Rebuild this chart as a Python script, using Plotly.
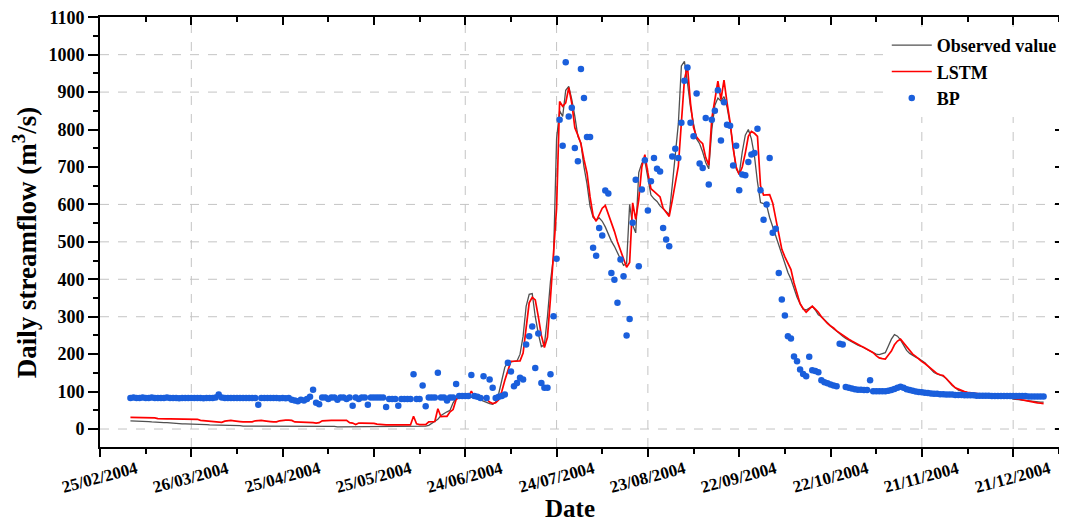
import pandas as pd
import plotly.graph_objects as go

# ---------------- data (daily values, 06/03/2004 - 31/12/2004) ----------------
start_date = "2004-03-06"

observed = [
    22, 22, 21, 21, 20, 20, 20, 19, 18, 18,
    18, 17, 17, 16, 15, 15, 14, 14, 14, 14,
    14, 13, 13, 12, 12, 12, 11, 11, 10, 10,
    10, 10, 9, 9, 9, 9, 9, 8, 8, 8,
    8, 8, 8, 8, 9, 9, 9, 8, 8, 8,
    8, 8, 8, 7, 7, 7, 8, 8, 8, 8,
    8, 8, 8, 7, 7, 7, 7, 7, 6, 6,
    6, 6, 6, 6, 6, 6, 7, 7, 7, 7,
    7, 7, 7, 6, 6, 6, 6, 6, 6, 6,
    6, 6, 6, 6, 6, 7, 7, 8, 10, 15,
    20, 26, 36, 42, 46, 50, 70, 82, 85, 86,
    86, 86, 86, 85, 84, 78, 74, 71, 68, 66,
    72, 95, 130, 165, 178, 180, 180, 182, 200, 248,
    328, 360, 362, 300, 255, 220, 225, 300, 395, 460,
    775, 850, 835, 905, 915, 880, 835, 782, 764, 700,
    655, 595, 565, 558, 564, 555, 540, 520, 502, 488,
    470, 455, 437, 442, 600, 545, 524, 685, 710, 716,
    665, 625, 615, 608, 596, 588, 580, 573, 650, 728,
    815, 970, 982, 925, 860, 815, 775, 762, 740, 712,
    695, 800, 865, 884, 876, 888, 860, 815, 755, 695,
    680, 740, 785, 800, 775, 730, 660, 605, 602, 598,
    565, 541, 515, 492, 465, 440, 418, 400, 375, 352,
    335, 320, 318, 322, 328, 318, 305, 300, 292, 283,
    274, 268, 262, 254, 248, 242, 237, 233, 228, 224,
    221, 217, 213, 208, 204, 200, 199, 201, 204, 222,
    240, 252, 248, 238, 222, 210, 202, 196, 192, 188,
    182, 177, 168, 160, 151, 147, 144, 141, 135, 124,
    116, 110, 104, 101, 100, 97, 95, 94, 93, 92,
    91, 90, 90, 89, 89, 88, 88, 87, 86, 84,
    80, 79, 78, 77, 76, 75, 74, 73, 73, 72,
    72,
]

lstm = [
    31, 31, 31, 31, 31, 31, 31, 31, 30, 28,
    27, 27, 27, 27, 27, 27, 27, 27, 27, 27,
    27, 27, 26, 23, 22, 22, 21, 20, 18, 17,
    18, 21, 22, 23, 22, 22, 20, 19, 19, 19,
    19, 22, 23, 23, 22, 22, 20, 19, 19, 22,
    24, 24, 24, 23, 19, 19, 18, 18, 18, 18,
    17, 16, 17, 22, 23, 23, 23, 23, 23, 23,
    23, 23, 17, 16, 12, 16, 16, 16, 14, 14,
    15, 13, 12, 12, 11, 11, 11, 10, 10, 11,
    11, 12, 11, 34, 14, 12, 12, 12, 19, 20,
    20, 54, 33, 34, 34, 46, 52, 79, 85, 86,
    86, 86, 101, 86, 83, 83, 83, 80, 72, 68,
    70, 78, 100, 130, 155, 181, 181, 181, 182, 203,
    274, 337, 352, 345, 300, 250, 218, 245, 350, 470,
    590, 875, 862, 871, 912, 870, 805, 785, 762, 720,
    684, 620, 570, 555, 575, 590, 597, 575, 555, 528,
    500, 478, 455, 432, 445, 604, 560, 613, 700, 733,
    684, 642, 635, 628, 620, 590, 580, 568, 610, 660,
    702, 818, 933, 969, 870, 805, 780, 770, 762, 725,
    705, 830, 875, 929, 880, 932, 872, 820, 750, 700,
    680, 700, 737, 782, 795, 790, 782, 650, 625, 626,
    626, 604, 560, 520, 480, 460, 444, 426, 390, 364,
    335, 322, 312, 320, 328, 320, 312, 300, 290, 282,
    275, 270, 262, 256, 250, 245, 240, 235, 230, 226,
    222, 218, 214, 210, 204, 196, 190, 188, 187, 198,
    208, 225, 235, 240, 230, 218, 210, 200, 194, 186,
    180, 175, 168, 160, 154, 148, 145, 143, 135, 125,
    118, 110, 106, 104, 100, 98, 97, 96, 95, 94,
    93, 92, 91, 90, 89, 88, 87, 86, 86, 85,
    83, 82, 80, 78, 76, 74, 72, 71, 70, 69,
    68,
]

bp = [
    83, 84, 83, 83, 84, 83, 83, 84, 83, 83,
    83, 83, 84, 83, 83, 83, 82, 83, 83, 83,
    83, 83, 83, 83, 82, 83, 83, 83, 84, 92,
    84, 83, 83, 83, 83, 83, 83, 83, 83, 83,
    83, 83, 65, 83, 83, 83, 83, 83, 83, 82,
    83, 82, 83, 78, 76, 74, 78, 76, 80, 86,
    105, 70, 66, 84, 84, 80, 84, 84, 78, 84,
    84, 80, 84, 62, 84, 80, 84, 84, 65, 84,
    84, 84, 84, 84, 59, 80, 80, 80, 62, 80,
    80, 80, 80, 146, 80, 80, 116, 61, 84, 84,
    84, 150, 84, 84, 76, 84, 84, 120, 88, 88,
    88, 88, 144, 88, 86, 83, 141, 83, 132, 110,
    83, 86, 88, 92, 177, 154, 114, 123, 137, 132,
    226, 248, 274, 163, 255, 123, 110, 110, 146, 301,
    455, 826, 757, 980, 835, 858, 751, 715, 962, 884,
    780, 780, 484, 463, 537, 517, 637, 629, 417, 399,
    337, 453, 408, 250, 294, 551, 666, 435, 640, 718,
    584, 662, 724, 695, 688, 537, 506, 488, 728, 749,
    724, 818, 930, 966, 818, 782, 896, 709, 697, 831,
    653, 826, 850, 905, 771, 873, 813, 810, 704, 757,
    638, 680, 678, 713, 733, 737, 802, 638, 559, 600,
    724, 524, 535, 417, 346, 303, 248, 242, 194, 181,
    159, 147, 141, 193, 157, 155, 152, 130, 125, 122,
    119, 116, 114, 228, 226, 112, 110, 108, 106, 105,
    105, 104, 104, 130, 101, 101, 101, 101, 101, 102,
    104, 107, 110, 113, 110, 106, 104, 102, 100, 99,
    98, 97, 96, 95, 94, 94, 93, 93, 92, 92,
    92, 91, 91, 91, 90, 90, 90, 90, 89, 89,
    89, 89, 89, 88, 88, 88, 88, 88, 88, 88,
    88, 88, 88, 88, 88, 87, 87, 87, 87, 87,
    87,
]

dates = pd.date_range(start_date, periods=len(observed), freq="D")

# tick labels of the date axis
tick_dates = ["2004-02-25", "2004-03-26", "2004-04-25", "2004-05-25",
              "2004-06-24", "2004-07-24", "2004-08-23", "2004-09-22",
              "2004-10-22", "2004-11-21", "2004-12-21"]
tick_labels = ["25/02/2004", "26/03/2004", "25/04/2004", "25/05/2004",
               "24/06/2004", "24/07/2004", "23/08/2004", "22/09/2004",
               "22/10/2004", "21/11/2004", "21/12/2004"]

x_range = ["2004-02-25", "2005-01-06 09:00"]
tick_start = "2004-02-25"
DAY_MS = 86400000
y_range = [-48, 1100.6]
grid_x = ["2004-03-26", "2004-06-24", "2004-07-24", "2004-08-23",
          "2004-11-21", "2004-12-21"]
grid_y = [0, 300, 400, 500, 600, 900, 1000]

FONT = "Liberation Serif"

fig = go.Figure()
fig.add_trace(go.Scatter(
    x=dates, y=observed, name="Observed value", mode="lines",
    line=dict(color="#505050", width=1.3)))
fig.add_trace(go.Scatter(
    x=dates, y=lstm, name="LSTM", mode="lines",
    line=dict(color="#ff0000", width=1.7)))
fig.add_trace(go.Scatter(
    x=dates, y=bp, name="BP", mode="markers",
    marker=dict(color="#1a5fdc", size=6.5, line=dict(width=0))))
# invisible copy so the mirrored frame axes (top / right) are drawn
fig.add_trace(go.Scatter(
    x=dates, y=observed, xaxis="x2", yaxis="y2", mode="lines",
    line=dict(width=0, color="rgba(0,0,0,0)"), opacity=0,
    showlegend=False, hoverinfo="skip"))

shapes = []
for gx in grid_x:
    shapes.append(dict(type="line", xref="x", yref="paper", x0=gx, x1=gx,
                       y0=0, y1=1, layer="below",
                       line=dict(color="#c4c4c4", width=1, dash="dash")))
for gy in grid_y:
    shapes.append(dict(type="line", xref="paper", yref="y", x0=0, x1=1,
                       y0=gy, y1=gy, layer="below",
                       line=dict(color="#c4c4c4", width=1, dash="dash")))

annotations = []
for td, tl in zip(tick_dates, tick_labels):
    annotations.append(dict(
        x=td, xref="x", y=-0.071, yref="paper", text=tl, showarrow=False,
        xanchor="center", yanchor="middle", textangle=-15,
        font=dict(family=FONT, size=17, color="black", weight="bold")))
annotations.append(dict(
    x=0.488, xref="paper", y=-0.143, yref="paper", text="<b>Date</b>",
    showarrow=False, xanchor="center", yanchor="middle",
    font=dict(family=FONT, size=25, color="black")))
annotations.append(dict(
    x=-0.078, xref="paper", y=0.476, yref="paper",
    text="<b>Daily streamflow (m<sup>3</sup>/s)</b>", textangle=-90,
    showarrow=False, xanchor="center", yanchor="middle",
    font=dict(family=FONT, size=27, color="black")))

axis_line = dict(showline=True, linewidth=2, linecolor="black",
                 showgrid=False, zeroline=False, automargin=False)

# the page places the figure 8 px from the top-left corner
fig.update_layout(
    width=1059, height=515,
    margin=dict(l=92, r=4, t=9, b=76),
    paper_bgcolor="white", plot_bgcolor="white",
    font=dict(family=FONT, color="black"),
    shapes=shapes,
    annotations=annotations,
    showlegend=True,
    legend=dict(x=0.817, y=0.977, xanchor="left", yanchor="top",
                bgcolor="white", borderwidth=0,
                font=dict(family=FONT, size=18, color="black", weight="bold"),
                tracegroupgap=0, itemwidth=40),
    xaxis=dict(
        type="date", range=x_range,
        tick0=tick_start, dtick=30 * DAY_MS, showticklabels=False,
        ticks="outside", ticklen=8, tickwidth=2, tickcolor="black",
        minor=dict(ticks="outside", ticklen=5, tickwidth=2, tickcolor="black",
                   tick0=tick_start, dtick=15 * DAY_MS, showgrid=False),
        **axis_line,
    ),
    xaxis2=dict(
        type="date", overlaying="x", matches="x", side="top", anchor="y2",
        tick0=tick_start, dtick=30 * DAY_MS, showticklabels=False,
        ticks="inside", ticklen=8, tickwidth=2, tickcolor="black",
        minor=dict(ticks="inside", ticklen=5, tickwidth=2, tickcolor="black",
                   tick0=tick_start, dtick=15 * DAY_MS, showgrid=False),
        **axis_line,
    ),
    yaxis=dict(
        range=y_range, tick0=0, dtick=100, ticklabeloverflow="allow",
        tickfont=dict(family=FONT, size=18, color="black", weight="bold"),
        ticks="outside", ticklen=10, tickwidth=2, tickcolor="black",
        minor=dict(ticks="outside", ticklen=5, tickwidth=2, tickcolor="black",
                   tick0=0, dtick=50, showgrid=False),
        **axis_line,
    ),
    yaxis2=dict(
        overlaying="y", matches="y", side="right", anchor="x2",
        tick0=0, dtick=100, showticklabels=False,
        ticks="inside", ticklen=8, tickwidth=2, tickcolor="black",
        minor=dict(ticks="inside", ticklen=4, tickwidth=2, tickcolor="black",
                   tick0=0, dtick=50, showgrid=False),
        **axis_line,
    ),
)

fig.write_html("out.html")
